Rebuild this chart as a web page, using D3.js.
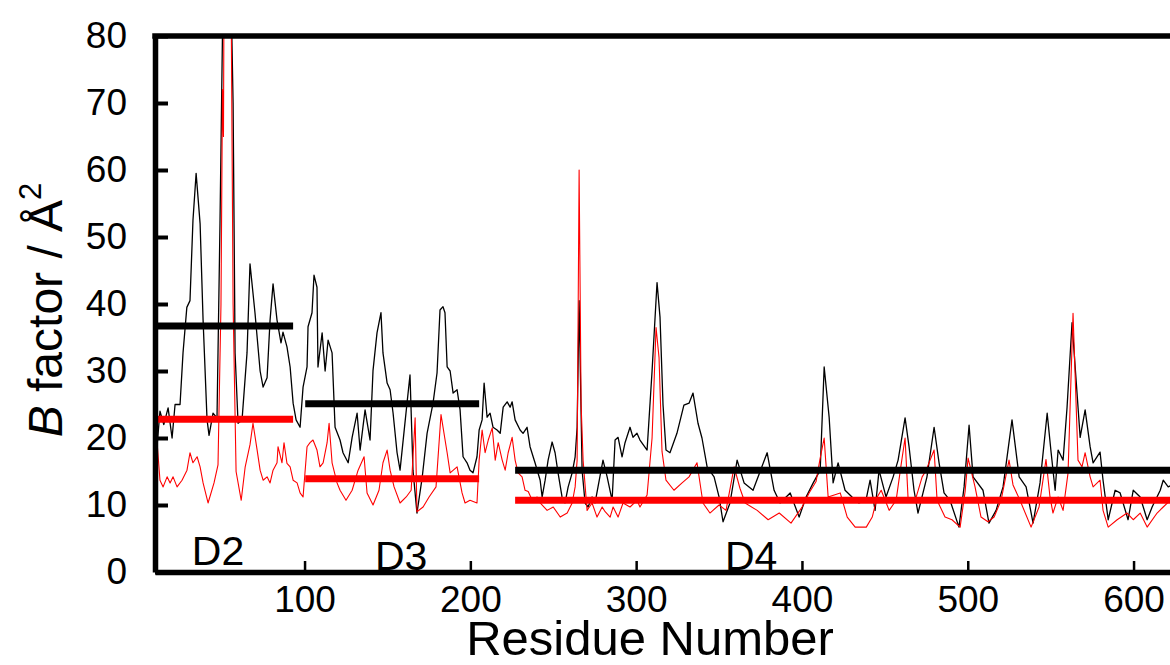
<!DOCTYPE html>
<html>
<head>
<meta charset="utf-8">
<title>B factor per residue</title>
<script src="https://d3js.org/d3.v7.min.js"></script>
<style>
body { margin: 0; background: #fff; }
svg { display: block; font-family: Arial, "Liberation Sans", sans-serif; }
.axis path, .axis line { stroke: #000; }
.axis text { font-size: 37px; fill: #000; }
</style>
</head>
<body>
<script>
// black trace: residue number and B factor
var blackRes = [9.8,11,12.8,15.1,17.7,20.1,21.9,24.9,26.7,29,30.9,32.7,34.6,37,38.8,41.2,42.4,44.8,47.2,49,50.8,55.7,56.9,58.1,59.9,62.3,65.3,67.1,70.1,73.2,75,77.4,79.2,81,83.4,85.8,87,89.4,91.3,93.1,94.9,97.3,99.1,101.5,102.1,104.5,105.7,107.5,108.1,110.6,112.4,114.2,116.6,118.4,121.4,123.2,126.3,128.7,131.7,133.5,136.5,139.5,141.3,143.7,146.1,147.3,149.8,151.6,153.4,155.8,157.6,161.8,163.6,165.4,167.8,170.9,173.9,177.5,179.9,181.7,183.5,184.7,186,187.8,189.6,192,193.8,195.6,198,199.8,201.6,204,205.3,207.1,208.3,210.1,211.9,213.7,216.1,218,219.8,222.2,224,225.2,227,230,231.8,234.2,236,239,242.1,243.3,245.1,246.9,249.3,251.1,252.9,255.3,257.1,259,261.4,263.2,264.4,265.6,267.4,269.2,271,273.4,275.2,277,280,282.5,285.5,287.3,289.1,291.5,293.3,296.3,298.1,300.5,302.3,306.6,309.6,312.6,314.4,316.2,318,320.4,324.6,328.8,331.9,334.3,337.3,339.7,342.8,347,350,352.4,356.6,360.9,365.1,370.5,379,383.2,386.8,392.9,398.3,402.5,406.8,411,413.4,416.4,418.8,421.8,426,430.2,434.4,438.6,441.1,444.1,446.5,450.7,455,458,462.2,464.6,467.6,470,475.4,479.7,482.7,485.7,489.3,494.7,497.8,500.8,503.2,509.2,512.8,517.1,521.3,526.7,531,535.2,539.4,543.6,547.9,550.3,552.7,554.5,557.5,559.9,562.9,567.8,570.8,573.8,575.6,579.8,581.6,584.7,588.9,591.9,596.7,599.8,604,608.2,611.2,616.1,617.9,620.9,623.3];
var blackB = [25,18.7,24,22,24.5,20,25,25,32.7,39.5,40.5,52.5,59.5,52,37.6,22.7,20.4,23.7,23,52,86,86,70,32.7,22.2,22.7,32.7,46,38.7,30,27.6,29,37.6,43,37.6,34.2,35.8,33.6,30.6,25.2,22.7,21.6,27.6,30.6,36.6,38.7,44.3,42.5,30.6,35.7,30,34.6,32.7,21.6,19.7,17.8,16.3,20.1,23.7,18.2,24.2,19.7,30.1,35.7,38.7,32.7,28.2,27.2,23.7,17.8,15.2,25.2,29.4,15.2,8.8,14,20.7,25.2,29.7,39.1,39.6,38.7,30.6,30,26.7,27.2,24.2,17.2,16.3,15.2,14.8,17.2,21.2,22.7,28.2,23.1,23.7,21.6,21.2,20.7,24.6,25.4,24.6,25.4,22.7,21.2,20.7,21.6,18.7,16.3,13.7,11.2,13.7,16.7,19.4,17.8,14.8,11.2,10.3,12.7,14.8,17.2,21.6,40.5,15.2,10.3,9.7,11.2,10.3,12.7,16.7,14.2,10.7,19.7,20.1,17.2,19.3,21.6,20.1,20.7,19.7,18.2,30,43.2,38,25,18.2,17.8,20.7,24.9,25.2,26.7,22.2,20,15.7,14.2,11.2,7.5,10.3,16.7,13.3,12.2,17.8,12.2,10.3,11.8,8.2,11.2,13.3,15.2,30.6,23.1,13.3,16.3,12.2,11.2,10.3,10.7,13.7,9.2,15.2,11.2,14.2,16.7,23,18.7,12.2,8.8,14.2,21.6,16.3,11.8,10.7,6.7,12.7,21.9,14.2,12.2,7.3,9.2,12.7,22.7,14.2,12.7,7.3,13.3,23.7,17.8,12.2,18.2,16.7,24.6,37.2,20.1,24.2,18.7,16.3,17.9,13.7,7.8,12.2,11.8,7.8,12.2,11.2,7.8,9.7,12.2,13.7,12.7,13];

// red trace
var redRes = [11,12.8,14.7,17.1,18.9,20.7,23.1,26.1,29.1,30.9,32.7,35.2,37,38.8,41.8,45.4,47.8,49.6,50.5,51.1,51.4,55.7,56.9,58.7,61.8,64.2,67.1,68.9,71.4,73.2,75,77.4,79.2,81,83.4,84,86.4,87.6,89.4,91.3,93.1,95.5,97.3,99.1,101.5,103.3,105.1,107.5,109.3,111.2,113.6,114.8,116.6,119.6,121.4,125,128.7,132.3,135.9,137.7,141.3,144.9,147.3,149.8,151.6,154,157.6,161.3,164.3,166.7,167.8,171.5,175.1,179.3,182.3,186,187.8,192,195,196.8,199.8,204,205.3,207.1,208.9,210.8,213.2,215,216.8,219.2,221,222.8,225.2,227,228.8,231.2,233,234.9,237.3,240.3,242.1,246.3,250,254.2,258.4,261.4,263.2,264.4,265.6,266.8,268,270.4,273.4,276.4,279.5,281.3,284.3,286.1,289.1,292.1,296.3,300.5,302.3,306.6,309.6,312,313.8,315.6,318,322.8,327.7,331.9,336.7,340.3,344.5,350,354.2,359.1,362.6,365.7,373,379.6,386.3,393.4,400.1,404.3,408.5,411,413.4,415.8,423.1,427.3,432.1,438.8,442.4,445.4,447.8,452.6,456.8,459.8,462.2,464,468.3,472.5,474.9,479.7,481.5,486.3,490.5,495.4,498.4,500.2,504.4,508,512.2,515.9,520.1,524.9,527.3,531.5,538.2,543,547.2,549.6,551.4,554.5,557.5,560.5,563.5,566.5,568.9,570.8,573.8,575.6,579.8,581.6,584.7,590.1,596.1,599.8,604,608.2,614.2,617.9,622.1,625.1];
var redB = [19.5,13.7,12.7,14.2,13.3,14.2,12.7,13.7,15.2,17.8,16.3,17.2,15.7,13.3,10.3,13.3,16,40,72,65,86,86,40,15,10.7,15.7,19,22.2,18.2,15.2,13.7,14.2,13.3,15.2,16.3,18.7,16.3,19.3,16.2,15.7,13.7,13.3,11.8,11.2,18.7,19.3,19.7,18.2,15.7,16.3,19.3,22.2,16.3,13.3,12.2,10.7,12.2,15.2,17.2,11.8,10,12.2,16.3,18.2,15.2,12.7,10.3,11.2,12.2,23,9,9.7,11.2,12.7,23.5,17.8,14.8,15.7,11.8,10.3,10.7,10.3,16.7,21.2,17.8,19.7,21.5,16.7,19.3,16.7,15.2,17.8,20.1,16.7,14.8,14.2,12.2,12,10.7,11.2,10.3,9.2,9.7,8.2,8.8,10.3,12.7,16.7,60,25,16.7,9.2,10.3,8.2,9.7,9,8.2,9.7,8.2,10.3,9.7,10.7,9.7,11.5,20,36.5,32,18,13.7,12.2,13.3,14.2,16.3,10.3,8.8,10,9.2,15.7,12.5,10.3,9.2,7.8,8.8,7.3,9.7,11.8,13.5,17,20,11.2,11.8,8.2,6.7,6.7,8.2,11.2,12.2,9.2,10.7,16,20,11,10.7,14.2,15.2,18.2,10.7,8.2,7.8,6.7,12,17,12.7,8.2,7.5,8.2,10.7,16.7,13,10.7,6.7,9.7,16.8,11.2,8.8,11.2,9.2,14.8,38.6,16.7,15.7,17.8,14.2,12.7,13.7,9.2,6.7,7.8,8.8,7.8,8.8,6.7,8.8,9.7,10.7,10.5];

// domain averages
var domains = ["D2", "D3", "D4"];
var domainFrom = [9.8, 100.4, 227];
var domainTo = [93.1, 205.3, 625];
var meanBlack = [36.7, 25.1, 15.2];
var meanRed = [22.8, 13.9, 10.7];
var labelRes = [32, 142.5, 353.6];

var xTicks = [100, 200, 300, 400, 500, 600];
var yTicks = [0, 10, 20, 30, 40, 50, 60, 70, 80];

var width = 1170, height = 665;
var plotL = 155, plotR = 1175, plotT = 36, plotB = 572;

var svg = d3.select("body").append("svg")
    .attr("width", width)
    .attr("height", height);

var x = d3.scaleLinear().domain([9.8, 625]).range([plotL, plotR]);
var y = d3.scaleLinear().domain([0, 80]).range([plotB, plotT]);

svg.append("clipPath").attr("id", "plot")
  .append("rect")
    .attr("x", plotL).attr("y", plotT)
    .attr("width", plotR - plotL).attr("height", plotB - plotT);

var g = svg.append("g").attr("clip-path", "url(#plot)");

var line = d3.line().x(function(d) { return x(d[0]); }).y(function(d) { return y(d[1]); });

g.append("path")
    .datum(d3.zip(blackRes, blackB))
    .attr("fill", "none")
    .attr("stroke", "#000")
    .attr("stroke-width", 1.3)
    .attr("stroke-linejoin", "round")
    .attr("d", line);

g.append("path")
    .datum(d3.zip(redRes, redB))
    .attr("fill", "none")
    .attr("stroke", "#ff0000")
    .attr("stroke-width", 1.1)
    .attr("stroke-linejoin", "round")
    .attr("d", line);

// mean bars
domains.forEach(function(dn, i) {
    g.append("line")
        .attr("x1", x(domainFrom[i])).attr("x2", x(domainTo[i]))
        .attr("y1", y(meanBlack[i])).attr("y2", y(meanBlack[i]))
        .attr("stroke", "#000").attr("stroke-width", 7);
    g.append("line")
        .attr("x1", x(domainFrom[i])).attr("x2", x(domainTo[i]))
        .attr("y1", y(meanRed[i])).attr("y2", y(meanRed[i]))
        .attr("stroke", "#ff0000").attr("stroke-width", 7);
});

// domain labels
svg.selectAll(".dlabel")
    .data(domains)
    .enter().append("text")
    .attr("class", "dlabel")
    .attr("x", function(d, i) { return x(labelRes[i]); })
    .attr("y", function(d, i) { return i == 0 ? y(1) : y(0.3); })
    .attr("font-size", 41)
    .text(function(d) { return d; });

// axes
var yAxis = svg.append("g")
    .attr("class", "axis")
    .attr("transform", "translate(" + plotL + ",0)")
    .call(d3.axisLeft(y).tickValues(yTicks).tickSize(-13).tickSizeOuter(0).tickPadding(28));
yAxis.selectAll(".tick line").attr("stroke-width", 4);
yAxis.select(".domain").attr("stroke-width", 5.5);

var xAxis = svg.append("g")
    .attr("class", "axis")
    .attr("transform", "translate(0," + plotB + ")")
    .call(d3.axisBottom(x).tickValues(xTicks).tickSize(-11).tickSizeOuter(0).tickPadding(14));
xAxis.selectAll(".tick line").attr("stroke-width", 2.5);
xAxis.select(".domain").attr("stroke-width", 5.5);

// top frame
svg.append("line")
    .attr("x1", plotL - 2.75).attr("x2", plotR)
    .attr("y1", plotT).attr("y2", plotT)
    .attr("stroke", "#000").attr("stroke-width", 5.5);

// titles
svg.append("text")
    .attr("x", 650).attr("y", 655)
    .attr("text-anchor", "middle")
    .attr("font-size", 49)
    .text("Residue Number");

var yt = svg.append("text")
    .attr("transform", "translate(62," + ((plotT + plotB) / 2 + 6) + ") rotate(-90)")
    .attr("text-anchor", "middle")
    .attr("font-size", 48);
yt.append("tspan").attr("font-style", "italic").text("B");
yt.append("tspan").text(" factor / Å");
yt.append("tspan").attr("font-size", 31).attr("dy", -21).text("2");
</script>
</body>
</html>
